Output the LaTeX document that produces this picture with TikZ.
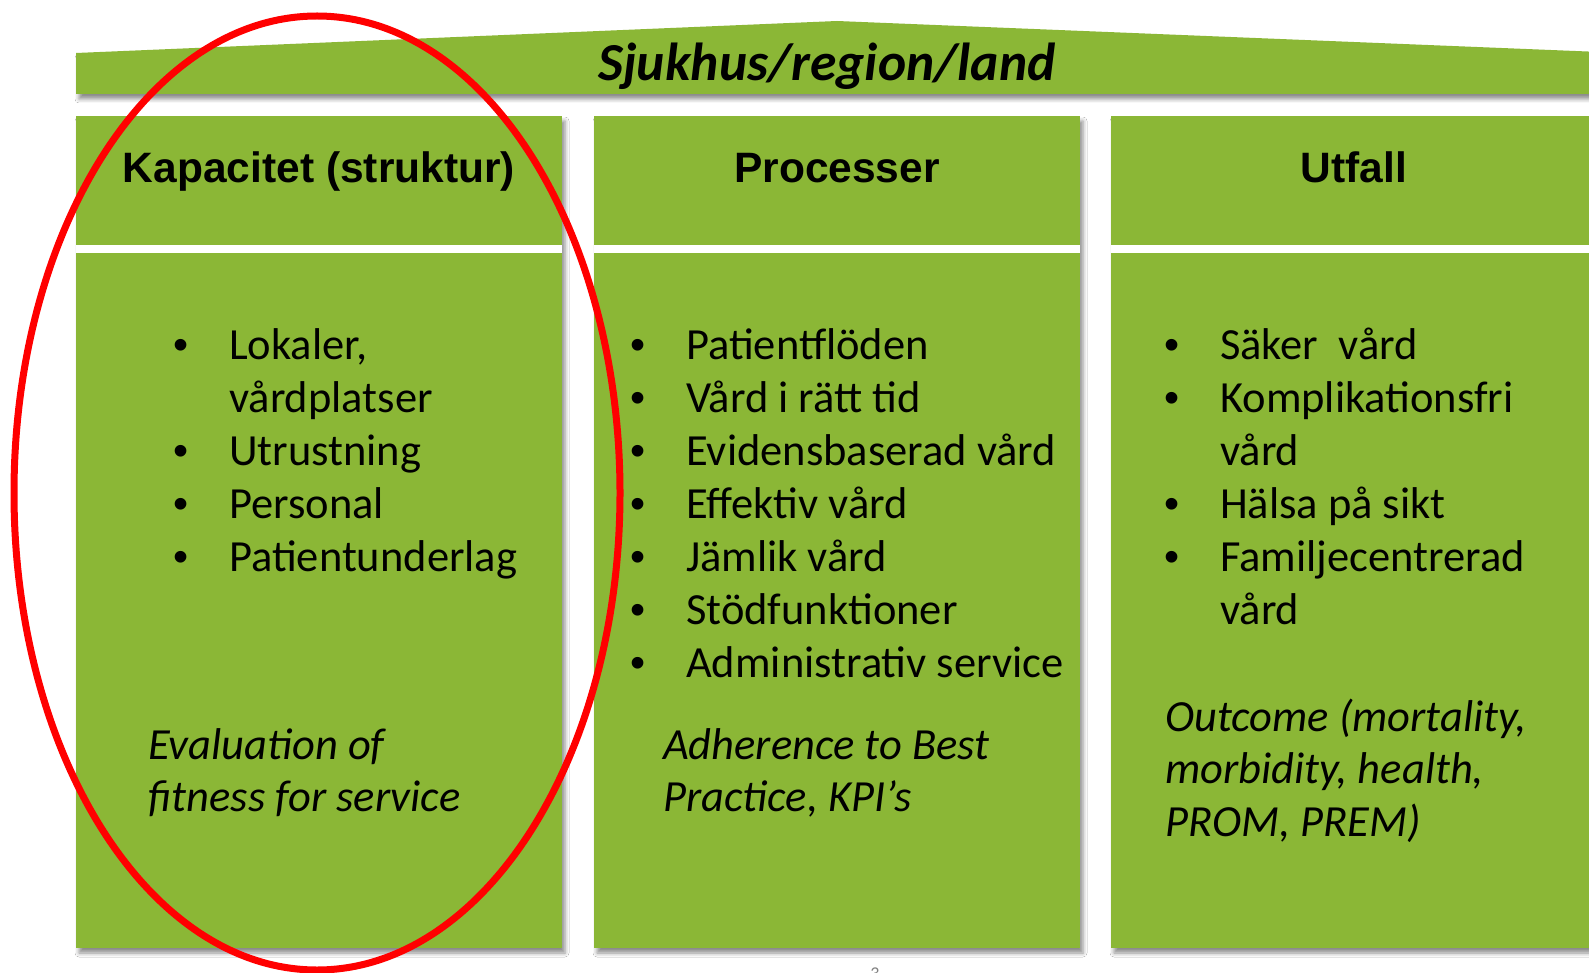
\documentclass[tikz,border=0pt]{standalone}
\usepackage{fontspec}
\setmainfont{Carlito}
\newfontfamily\headfont{Liberation Sans}
\usetikzlibrary{shadows.blur}
\definecolor{pillargreen}{RGB}{139,183,54}
\definecolor{ringred}{RGB}{255,0,0}
\tikzset{
  pillarshadow/.style={blur shadow={shadow xshift=3pt, shadow yshift=-5pt,
      shadow blur radius=4pt, shadow opacity=45}},
  pillar/.style={fill=pillargreen, pillarshadow},
  headtext/.style={inner sep=0pt, anchor=base, font=\headfont\bfseries\fontsize{42.5}{50}\selectfont},
  itemtext/.style={inner sep=0pt, anchor=base west, font=\fontsize{44.5}{52}\selectfont},
  bulletmark/.style={inner sep=0pt, anchor=base, font=\headfont\fontsize{43}{52}\selectfont},
  notetext/.style={inner sep=0pt, anchor=base west, font=\itshape\fontsize{44.5}{52}\selectfont},
}
\begin{document}
\begin{tikzpicture}[x=1pt, y=-1pt]
  \useasboundingbox[fill=white] (0,0) rectangle (1589,973);
  % roof
  \fill[pillar] (76,53) -- (837,21) -- (1600,52) -- (1600,94) -- (76,94) -- cycle;
  \node[inner sep=0pt, anchor=base, font=\bfseries\itshape\fontsize{53.5}{60}\selectfont]
    (roof) at (827,81) {Sjukhus/region/land};
  % pillars
  \foreach \x/\name in {76/kap, 594/proc, 1111/utf} {
    \fill[pillar] (\x,116) rectangle ++(486,832);
    \fill[white] (\x,245) rectangle ++(486,8);
  }
  \node[headtext] (kap) at (319,183) {Kapacitet (struktur)};
  \node[headtext] (proc) at (837,183) {Processer};
  \node[headtext] (utf) at (1354,183) {Utfall};
  % Kapacitet
  \foreach \y in {359,465,518,571}
    \node[bulletmark] (kap-dot-\y) at (181,\y) {•};
  \foreach \y/\t in {359/{Lokaler,}, 412/vårdplatser, 465/Utrustning, 518/Personal, 571/Patientunderlag}
    \node[itemtext] (kap-\y) at (229,\y) {\t};
  \node[notetext] (kap-note1) at (148,759) {Evaluation of};
  \node[notetext] (kap-note2) at (148,811) {fitness for service};
  % Processer
  \foreach \y/\t in {359/Patientflöden, 412/Vård i rätt tid, 465/Evidensbaserad vård, 518/Effektiv vård,
      571/Jämlik vård, 624/Stödfunktioner, 677/Administrativ service} {
    \node[bulletmark] (proc-dot-\y) at (638,\y) {•};
    \node[itemtext] (proc-\y) at (686,\y) {\t};
  }
  \node[notetext] (proc-note1) at (663,759) {Adherence to Best};
  \node[notetext] (proc-note2) at (663,811) {Practice, KPI’s};
  % Utfall
  \foreach \y in {359,412,518,571}
    \node[bulletmark] (utf-dot-\y) at (1172,\y) {•};
  \foreach \y/\t in {359/Säker\ \ vård, 412/Komplikationsfri, 465/vård, 518/Hälsa på sikt,
      571/Familjecentrerad, 624/vård}
    \node[itemtext] (utf-\y) at (1220,\y) {\t};
  \node[notetext] (utf-note1) at (1165,731) {Outcome (mortality,};
  \node[notetext] (utf-note2) at (1165,783) {morbidity, health,};
  \node[notetext] (utf-note3) at (1165,836) {PROM, PREM)};
  % page number, cut by the page edge
  \node[anchor=north, inner sep=0pt, text=gray, font=\fontsize{18}{20}\selectfont] (pagenr) at (875,968) {3};
  % marking ring
  \draw[ringred, line width=7pt] (317,493) ellipse [x radius=303pt, y radius=477pt];
\end{tikzpicture}
\end{document}
